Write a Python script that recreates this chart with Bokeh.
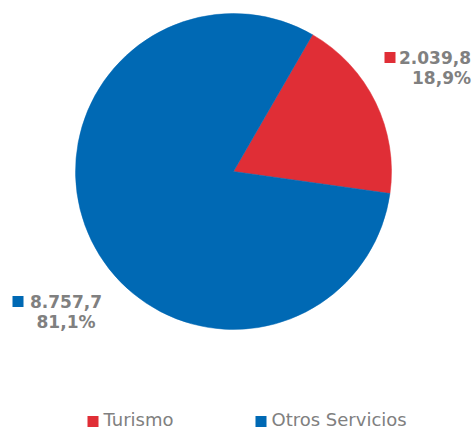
import math
from bokeh.plotting import figure
from bokeh.models import Range1d
from bokeh.core.properties import value
from bokeh.embed import file_html
from bokeh.resources import INLINE

# ---- data ----
categories = ["Turismo", "Otros Servicios"]
values = [2039.8, 8757.7]
value_labels = ["2.039,8", "8.757,7"]
pct_labels = ["18,9%", "81,1%"]
colors = ["#E02E36", "#0069B4"]

# ---- layout (page pixel coordinates; y measured downward) ----
W, H = 476, 430
cx, cy, R = 233, 171, 158
start_from_top = 30  # degrees clockwise from 12 o'clock

p = figure(width=W, height=H, output_backend="svg", toolbar_location=None,
           x_range=Range1d(0, W), y_range=Range1d(-H, 0),
           min_border=0, background_fill_color="white", border_fill_color="white")
p.axis.visible = False
p.grid.visible = False
p.outline_line_color = None

total = sum(values)
ang = 90 - start_from_top  # math angle, degrees
for v, c in zip(values, colors):
    span = v / total * 360
    p.wedge(x=cx, y=-cy, radius=R, start_angle=math.radians(ang - span),
            end_angle=math.radians(ang), direction="anticlock",
            fill_color=c, line_color=c, line_width=0.5)
    ang -= span

# data labels
line1_cx = [434.5, 65.5]
line2_cx = [441, 65.5]
label_y1 = [57, 301]
square_x = [389.5, 17.5]
gray = "#808080"
for i in range(2):
    p.rect(x=square_x[i], y=-label_y1[i], width=11, height=11, fill_color=colors[i], line_color=None)
    p.text(x=[line1_cx[i]], y=[-label_y1[i]], text=[value_labels[i]], text_align="center",
           text_baseline="middle", text_font=value("DejaVu Sans"), text_font_style="bold",
           text_font_size="17px", text_color=gray)
    p.text(x=[line2_cx[i]], y=[-label_y1[i] - 20], text=[pct_labels[i]], text_align="center",
           text_baseline="middle", text_font=value("DejaVu Sans"), text_font_style="bold",
           text_font_size="17px", text_color=gray)

# legend
leg_sq_x = [92.5, 260.5]
leg_y = 421
for i in range(2):
    p.rect(x=leg_sq_x[i], y=-leg_y, width=11, height=11, fill_color=colors[i], line_color=None)
    p.text(x=[leg_sq_x[i] + 10.5], y=[-leg_y + 2], text=[categories[i]], text_align="left",
           text_baseline="middle", text_font=value("DejaVu Sans"),
           text_font_size="18px", text_color=gray)

open("out.html", "w").write(file_html(p, INLINE))
